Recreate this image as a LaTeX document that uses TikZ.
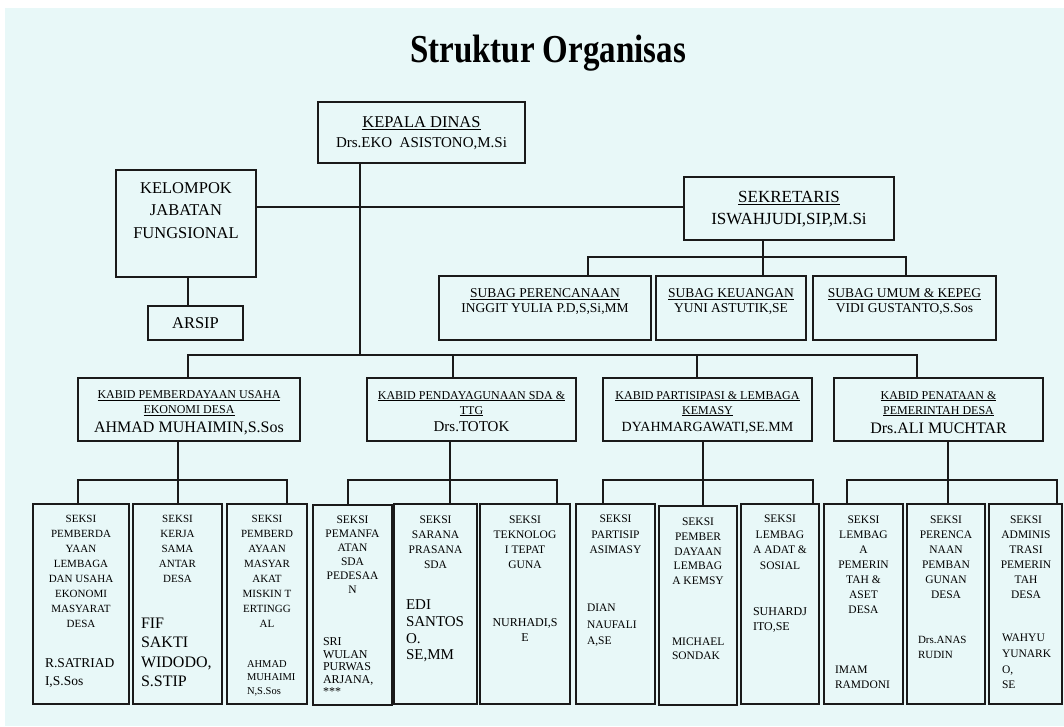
\documentclass[tikz,border=0pt]{standalone}
\usepackage{fontspec}
\usepackage{graphicx}
\setmainfont{Liberation Serif}
\usetikzlibrary{shadows}
\definecolor{bgc}{HTML}{E8F8F8}
\definecolor{ln}{HTML}{1A1A1A}
\tikzset{
 box/.style={draw=ln, line width=1.3pt, fill=bgc, inner sep=0pt, outer sep=0pt,
   drop shadow={shadow xshift=0.8pt, shadow yshift=-1.2pt, opacity=0.3, fill=black}},
 conn/.style={draw=ln, line width=1.2pt},
 txt/.style={inner sep=0pt, outer sep=0pt, align=center, anchor=north, text=black},
 txl/.style={inner sep=0pt, outer sep=0pt, align=left, anchor=north west, text=black},
}
\newcommand\mybox[5]{\node[box, minimum width={#4-#2}, minimum height={#5-#3}] (#1) at ({(#2+#4)/2},{(#3+#5)/2}) {};}
\newcommand\ctext[6]{\node[txt, font=\fontsize{#4}{#5}\selectfont] (#1) at (#2,{#3-0.33*#4}) {#6};}
\newcommand\ltext[6]{\node[txl, font=\fontsize{#4}{#5}\selectfont] (#1) at (#2,{#3-0.33*#4}) {#6};}
\begin{document}
\begin{tikzpicture}[x=1pt,y=-1pt]
\useasboundingbox (0,0) rectangle (1064,726);
\fill[white] (0,0) rectangle (1064,726);
\fill[bgc] (5,8) rectangle (1064,726);

% title
\node[font=\fontsize{33}{36}\selectfont\bfseries, anchor=base, inner sep=0pt] (title) at (548,62) {\scalebox{1.0}[1.2]{Struktur Organisas}};

% top boxes
\mybox{kepala}{318}{102}{525}{163}
\ctext{kepT1}{421.5}{122}{16.5}{20}{\underline{KEPALA DINAS}}
\ctext{kepT2}{421.5}{143}{15}{20}{Drs.EKO\ \ ASISTONO,M.Si}

\mybox{kelompok}{116}{170}{256}{277}
\ctext{kelT}{186}{188}{16.5}{22.5}{KELOMPOK\\JABATAN\\FUNGSIONAL}
\mybox{arsip}{148}{306}{243}{340}
\ctext{arsT}{195.5}{323}{16.5}{20}{ARSIP}

\mybox{sekretaris}{684}{177}{894}{240}
\ctext{sekT}{789}{197}{17}{22}{\underline{SEKRETARIS}\\ISWAHJUDI,SIP,M.Si}

\mybox{subag1}{439}{276}{651}{340}
\mybox{subag2}{656}{276}{806}{340}
\mybox{subag3}{813}{276}{996}{340}
\ctext{sub1T}{545}{293}{13.5}{15}{\underline{SUBAG PERENCANAAN}\\INGGIT YULIA P.D,S,Si,MM}
\ctext{sub2T}{731}{293}{13.5}{15}{\underline{SUBAG KEUANGAN}\\YUNI ASTUTIK,SE}
\ctext{sub3T}{904.5}{293}{13.5}{15}{\underline{SUBAG UMUM \& KEPEG}\\VIDI GUSTANTO,S.Sos}

% kabid
\mybox{kabid1}{78}{378}{300}{441}
\mybox{kabid2}{367}{378}{576}{441}
\mybox{kabid3}{603}{378}{812}{441}
\mybox{kabid4}{834}{378}{1043}{441}
\ctext{kab1T}{189}{395}{12}{15}{\underline{KABID PEMBERDAYAAN USAHA}\\\underline{EKONOMI DESA}}
\ctext{kab1N}{189}{427}{16}{18}{AHMAD MUHAIMIN,S.Sos}
\ctext{kab2T}{471.5}{395}{12}{15}{\underline{KABID PENDAYAGUNAAN SDA \&}\\\underline{TTG}}
\ctext{kab2N}{471.5}{427}{15}{18}{Drs.TOTOK}
\ctext{kab3T}{707.5}{395}{12}{15}{\underline{KABID PARTISIPASI \& LEMBAGA}\\\underline{KEMASY}}
\ctext{kab3N}{707.5}{427}{14}{18}{DYAHMARGAWATI,SE.MM}
\ctext{kab4T}{938.5}{395}{12}{15}{\underline{KABID PENATAAN \&}\\\underline{PEMERINTAH DESA}}
\ctext{kab4N}{938.5}{428}{16}{18}{Drs.ALI MUCHTAR}

% seksi boxes
\mybox{s1}{33}{504}{129}{704}
\mybox{s2}{133}{504}{222}{704}
\mybox{s3}{227}{504}{307}{704}
\mybox{s4}{313}{505}{392}{705}
\mybox{s5}{394}{504}{477}{704}
\mybox{s6}{480}{504}{570}{704}
\mybox{s7}{576}{504}{655}{704}
\mybox{s8}{659}{506}{737}{705}
\mybox{s9}{741}{504}{819}{704}
\mybox{s10}{824}{504}{903}{704}
\mybox{s11}{907}{504}{985}{704}
\mybox{s12}{989}{504}{1062}{704}

\ctext{s1T}{81}{519}{11}{15}{SEKSI\\PEMBERDA\\YAAN\\LEMBAGA\\DAN USAHA\\EKONOMI\\MASYARAT\\DESA}
\ltext{s1N}{45}{663}{13.5}{18.5}{R.SATRIAD\\I,S.Sos}
\ctext{s2T}{177.5}{519}{11}{15}{SEKSI\\KERJA\\SAMA\\ANTAR\\DESA}
\ltext{s2N}{141}{623}{16}{19.5}{FIF\\SAKTI\\WIDODO,\\S.STIP}
\ctext{s3T}{267}{519}{11}{15}{SEKSI\\PEMBERD\\AYAAN\\MASYAR\\AKAT\\MISKIN T\\ERTINGG\\AL}
\ltext{s3N}{247}{664}{10.5}{13.5}{AHMAD\\MUHAIMI\\N,S.Sos}
\ctext{s4T}{352.5}{520}{11.5}{14}{SEKSI\\PEMANFA\\ATAN\\SDA\\PEDESAA\\N}
\ltext{s4N}{323}{642}{12}{12.5}{SRI\\WULAN\\PURWAS\\ARJANA,\\***}
\ctext{s5T}{435.5}{520}{11.5}{15}{SEKSI\\SARANA\\PRASANA\\SDA}
\ltext{s5N}{406}{605}{15}{16.7}{EDI\\SANTOS\\O.\\SE,MM}
\ctext{s6T}{525}{520}{11.5}{15}{SEKSI\\TEKNOLOG\\I TEPAT\\GUNA}
\ctext{s6N}{525}{623}{12}{15}{NURHADI,S\\E}
\ctext{s7T}{615.5}{519}{11.5}{15.5}{SEKSI\\PARTISIP\\ASIMASY}
\ltext{s7N}{587}{608}{11.5}{16.5}{DIAN\\NAUFALI\\A,SE}
\ctext{s8T}{698}{522}{11.5}{14.6}{SEKSI\\PEMBER\\DAYAAN\\LEMBAG\\A KEMSY}
\ltext{s8N}{672}{642}{11.5}{14}{MICHAEL\\SONDAK}
\ctext{s9T}{780}{519}{11.5}{15.5}{SEKSI\\LEMBAG\\A ADAT \&\\SOSIAL}
\ltext{s9N}{753}{612}{12}{15}{SUHARDJ\\ITO,SE}
\ctext{s10T}{863.5}{520}{11.5}{15}{SEKSI\\LEMBAG\\A\\PEMERIN\\TAH \&\\ASET\\DESA}
\ltext{s10N}{835}{670}{11.5}{15}{IMAM\\RAMDONI}
\ctext{s11T}{946}{520}{11.5}{15}{SEKSI\\PERENCA\\NAAN\\PEMBAN\\GUNAN\\DESA}
\ltext{s11N}{918}{640}{11}{15}{Drs.ANAS\\RUDIN}
\ctext{s12T}{1026}{520}{11.5}{15}{SEKSI\\ADMINIS\\TRASI\\PEMERIN\\TAH\\DESA}
\ltext{s12N}{1002}{638}{11.5}{15.7}{WAHYU\\YUNARK\\O,\\SE}

% connectors: top
\coordinate (kbar) at (360,355);
\coordinate (hl) at (360,207);
\draw[conn] (kepala.south -| kbar) -- (kbar);
\draw[conn] (kelompok.east |- hl) -- (sekretaris.west |- hl);
\coordinate (ax) at (188,300);
\draw[conn] (kelompok.south -| ax) -- (arsip.north -| ax);

% sekretaris to subag
\coordinate (sb0) at (763,257);
\coordinate (sb1) at (588,257);
\coordinate (sb3) at (906,257);
\draw[conn] (sekretaris.south -| sb0) -- (sb0) -- (subag2.north -| sb0);
\draw[conn] (subag1.north -| sb1) -- (sb1) -- (sb3) -- (subag3.north -| sb3);

% kabid bar
\coordinate (kb1) at (188,355);
\coordinate (kb2) at (453,355);
\coordinate (kb3) at (697,355);
\coordinate (kb4) at (917,355);
\draw[conn] (kabid1.north -| kb1) -- (kb1) -- (kb4) -- (kabid4.north -| kb4);
\draw[conn] (kb2) -- (kabid2.north -| kb2);
\draw[conn] (kb3) -- (kabid3.north -| kb3);

% group 1
\coordinate (g1a) at (78,480); \coordinate (g1b) at (178,480); \coordinate (g1c) at (287,480);
\draw[conn] (kabid1.south -| g1b) -- (g1b) -- (s2.north -| g1b);
\draw[conn] (s1.north -| g1a) -- (g1a) -- (g1c) -- (s3.north -| g1c);
% group 2
\coordinate (g2a) at (348,480); \coordinate (g2b) at (450,480); \coordinate (g2c) at (557,480);
\draw[conn] (kabid2.south -| g2b) -- (g2b) -- (s5.north -| g2b);
\draw[conn] (s4.north -| g2a) -- (g2a) -- (g2c) -- (s6.north -| g2c);
% group 3
\coordinate (g3a) at (603,480); \coordinate (g3b) at (703,480); \coordinate (g3c) at (813,480);
\draw[conn] (kabid3.south -| g3b) -- (g3b) -- (s8.north -| g3b);
\draw[conn] (s7.north -| g3a) -- (g3a) -- (g3c) -- (s9.north -| g3c);
% group 4
\coordinate (g4a) at (847,480); \coordinate (g4b) at (948,480); \coordinate (g4c) at (1057,480);
\draw[conn] (kabid4.south -| g4b) -- (g4b) -- (s11.north -| g4b);
\draw[conn] (s10.north -| g4a) -- (g4a) -- (g4c) -- (s12.north -| g4c);
\end{tikzpicture}
\end{document}
